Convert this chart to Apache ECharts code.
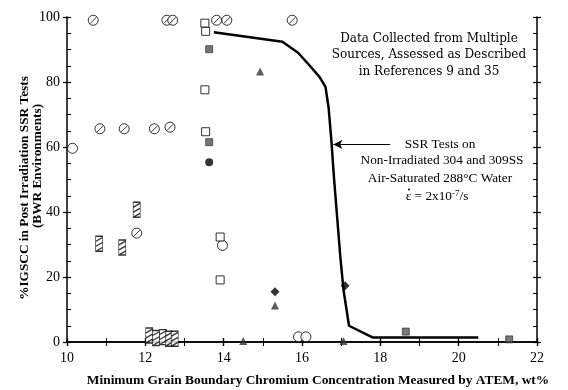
<!DOCTYPE html>
<html><head><meta charset="utf-8">
<script src="https://cdn.jsdelivr.net/npm/echarts@6/dist/echarts.min.js"></script>
<style>html,body{margin:0;padding:0;background:#fff}#c{width:568px;height:390px}</style>
</head><body><div id="c"></div>
<script>
// ---- data (x: min GB Cr wt%, y: %IGSCC) ----
const hatchedCircles = [[10.67,99],[12.55,99],[12.7,99],[13.82,99],[14.08,99],[15.75,99],
  [10.84,65.6],[11.46,65.6],[12.23,65.6],[12.63,66.1],[11.78,33.5]];
const openCircles = [[10.14,59.6],[13.97,29.7],[15.91,1.6],[16.1,1.6]];
const openSquares = [[13.52,98.1],[13.54,95.6],[13.52,77.6],[13.54,64.7],[13.91,32.3],[13.91,19.1]];
const stippleSquares = [[13.63,90.1],[13.63,61.5],[18.65,3.2],[21.29,0.8]];
const filledCircles = [[13.63,55.3]];
const diamonds = [[15.31,15.5],[17.1,17.3]];
const triangles = [[14.93,83.2],[15.31,11.2],[14.5,0.3],[17.06,0.3]];
const hatchedRects = [[10.82,30.2],[11.41,29.1],[11.78,40.7],[12.1,2],[12.27,1.2],[12.45,1.5],[12.6,1],[12.75,1]];
const curve = [[13.75,95.3],[15.5,92.4],[15.9,89],[16.2,85],[16.45,81.5],[16.6,78.5],[16.68,72],
  [16.75,62],[16.82,50],[16.9,38],[16.98,26],[17.06,16],[17.2,5],[17.8,1.4],[20.5,1.4]];
const xTicks = {min:10, max:22, interval:2};
const yTicks = {min:0, max:100, interval:20};
const arrowY = 60.8, arrowFrom = 18.25, arrowTo = 16.8;

const SERIF = '"Liberation Serif", "Times New Roman", serif';
const SERIF2 = '"DejaVu Serif", serif';
const hatchCirclePath = 'path://M0 5 A5 5 0 1 1 10 5 A5 5 0 1 1 0 5 Z M2 8.2 L8.2 2';
const hatchRectPath = 'path://M0 0 L6 0 L6 15 L0 15 Z M0 5 L6 1 M0 10 L6 6 M0 15 L6 11';

const chart = echarts.init(document.getElementById('c'), null, {renderer:'canvas'});
const grid = {left:67, right:31, top:17, bottom:48};
function xa(pos, inside, labels, main){
  return {type:'value', position:pos, min:xTicks.min, max:xTicks.max, interval:xTicks.interval,
    axisLine:{show:main, lineStyle:{color:'#000', width:1.5}},
    axisTick:{show:true, inside:inside, length:4, lineStyle:{color:'#000', width:1.2}},
    minorTick:{show:inside, splitNumber:2, length:4, lineStyle:{color:'#000', width:1}},
    axisLabel:{show:labels, color:'#000', fontFamily:SERIF, fontSize:14, margin:9},
    splitLine:{show:false}};
}
function ya(pos, inside, labels, main){
  return {type:'value', position:pos, min:yTicks.min, max:yTicks.max, interval:yTicks.interval,
    axisLine:{show:main, lineStyle:{color:'#000', width:1.5}},
    axisTick:{show:true, inside:inside, length:4, lineStyle:{color:'#000', width:1.2}},
    minorTick:{show:inside, splitNumber:4, length:4, lineStyle:{color:'#000', width:1}},
    axisLabel:{show:labels, color:'#000', fontFamily:SERIF, fontSize:14, margin:7},
    splitLine:{show:false}};
}
const open = {color:'#fff', borderColor:'#000', borderWidth:1};
function sc(data, symbol, size, style, keep){
  return {type:'scatter', data:data, symbol:symbol, symbolSize:size, symbolKeepAspect:keep!==false,
    itemStyle:style, z:3, silent:true};
}
chart.setOption({
  animation:false,
  backgroundColor:'#fff',
  grid:grid,
  xAxis:[xa('bottom',true,true,true), xa('bottom',false,false,false), xa('top',true,false,true), xa('top',false,false,false)],
  yAxis:[ya('left',true,true,true), ya('left',false,false,false), ya('right',true,false,true), ya('right',false,false,false)],
  series:[
    {type:'line', data:curve, showSymbol:false, symbol:'none', lineStyle:{color:'#000', width:2.5}, z:2, silent:true,
      markLine:{silent:true, symbol:['none','arrow'], symbolSize:[7,9], label:{show:false},
        lineStyle:{color:'#000', width:1, type:'solid'},
        data:[[{coord:[arrowFrom, arrowY]},{coord:[arrowTo, arrowY]}]]}},
    sc(hatchedCircles, hatchCirclePath, 10, open),
    sc(openCircles, 'circle', 10, open),
    sc(openSquares, 'rect', 8, open),
    sc(stippleSquares, 'rect', 7, {color:'#555', borderColor:'#222', borderWidth:0.8}),
    sc(filledCircles, 'circle', 8, {color:'#000'}),
    sc(diamonds, 'diamond', 9, {color:'#000'}),
    sc(triangles, 'triangle', 8, {color:'#333'}),
    sc(hatchedRects, hatchRectPath, [7,15], open, false)
  ],
  graphic:[
    {type:'text', x:429, y:55, style:{text:'Data Collected from Multiple\nSources, Assessed as Described\nin References 9 and 35',
      font:'12px '+SERIF2, fill:'#000', textAlign:'center', textVerticalAlign:'middle', lineHeight:16.5}, z:5},
    {type:'text', x:440, y:145, style:{text:'SSR Tests on', font:'13.3px '+SERIF, fill:'#000', textAlign:'center', textVerticalAlign:'middle'}, z:5},
    {type:'text', x:442, y:161, style:{text:'Non-Irradiated 304 and 309SS', font:'13.3px '+SERIF, fill:'#000', textAlign:'center', textVerticalAlign:'middle'}, z:5},
    {type:'text', x:440, y:179, style:{text:'Air-Saturated 288°C Water', font:'13.3px '+SERIF, fill:'#000', textAlign:'center', textVerticalAlign:'middle'}, z:5},
    {type:'text', x:437, y:197, style:{text:'{a|ε = 2x10}{s|-7}{a|/s}', textAlign:'center', textVerticalAlign:'middle',
      rich:{a:{font:'13.3px '+SERIF, fill:'#000'}, s:{font:'9px '+SERIF, fill:'#000', verticalAlign:'top', padding:[0,0,6,0]}}}, z:5},
    {type:'circle', shape:{cx:409, cy:189.5, r:1}, style:{fill:'#000'}, z:5},
    {type:'text', x:25, y:188, rotation:Math.PI/2, style:{text:'%IGSCC in Post Irradiation SSR Tests', font:'bold 13.3px '+SERIF, fill:'#000', textAlign:'center', textVerticalAlign:'middle'}},
    {type:'text', x:38, y:166, rotation:Math.PI/2, style:{text:'(BWR Environments)', font:'bold 13.3px '+SERIF, fill:'#000', textAlign:'center', textVerticalAlign:'middle'}},
    {type:'text', x:318, y:381, style:{text:'Minimum Grain Boundary Chromium Concentration Measured by ATEM, wt%', font:'bold 13.4px '+SERIF, fill:'#000', textAlign:'center', textVerticalAlign:'middle'}}
  ]
});
</script></body></html>
